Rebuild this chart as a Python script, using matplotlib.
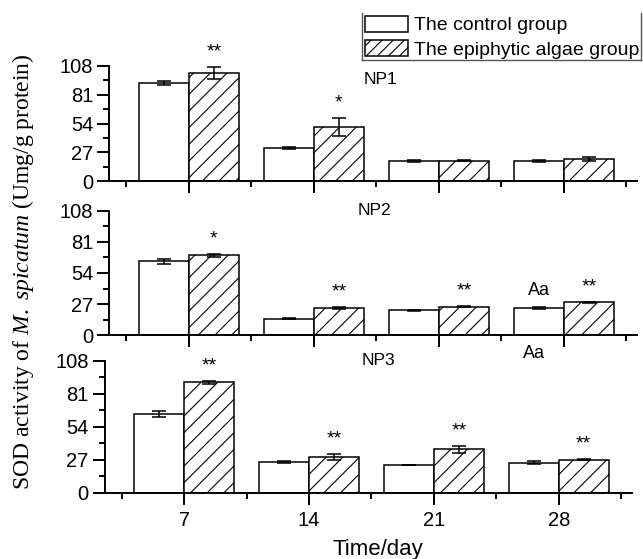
import matplotlib
matplotlib.use("Agg")
import matplotlib.pyplot as plt
from matplotlib.lines import Line2D
from matplotlib.patches import Patch
import numpy as np

plt.rcParams['font.family'] = ['Liberation Sans', 'DejaVu Sans']
plt.rcParams['mathtext.fontset'] = 'custom'
plt.rcParams['mathtext.rm'] = 'Liberation Serif'
plt.rcParams['mathtext.it'] = 'Liberation Serif:italic'
plt.rcParams['hatch.linewidth'] = 0.8

days = [7, 14, 21, 28]
day_labels = ["7", "14", "21", "28"]
yticks = [0, 27, 54, 81, 108]

np1_control = [92.1, 30.9, 19.0, 19.0]
np1_control_err = [2.2, 0.8, 0.5, 0.5]
np1_algae = [101.4, 51.2, 19.3, 20.9]
np1_algae_err = [5.3, 8.4, 0.7, 1.5]
np1_sig = ["**", "*", "", ""]

np2_control = [64.1, 14.4, 21.7, 23.4]
np2_control_err = [2.3, 0.5, 0.4, 1.0]
np2_algae = [69.3, 23.4, 24.8, 28.6]
np2_algae_err = [1.0, 1.0, 0.5, 0.5]
np2_sig = ["*", "**", "**", "**"]
np2_ctrl_note = ["", "", "", "Aa"]

np3_control = [64.2, 24.9, 22.7, 24.3]
np3_control_err = [2.6, 0.7, 0.3, 1.2]
np3_algae = [90.2, 29.2, 35.3, 27.1]
np3_algae_err = [1.5, 2.5, 3.0, 0.5]
np3_sig = ["**", "**", "**", "**"]

panel_names = ["NP1", "NP2", "NP3"]
legend_labels = ["The control group", "The epiphytic algae group"]

W, H = 643, 559
fig = plt.figure(figsize=(W / 100, H / 100), dpi=100)

def fx(px):
    return px / W

def fy(py):
    return 1 - py / H

# axes rectangles (pixel: left spine, right end, y of 0, y of 108)
rects = [
    (109.3, 637.0, 181.3, 66.0),
    (109.3, 637.0, 335.3, 210.7),
    (104.7, 631.7, 492.6, 360.7),
]

panels = [
    (np1_control, np1_control_err, np1_algae, np1_algae_err, np1_sig, ["", "", "", ""]),
    (np2_control, np2_control_err, np2_algae, np2_algae_err, np2_sig, np2_ctrl_note),
    (np3_control, np3_control_err, np3_algae, np3_algae_err, np3_sig, ["", "", "", ""]),
]

bw = 2.8
xlim = (2.54, 32.09)
axes = []
for i, ((l, r, y0, y1), (c, ce, a, ae, sig, note)) in enumerate(zip(rects, panels)):
    ax = fig.add_axes([fx(l), fy(y0), fx(r - l), (y0 - y1) / H])
    axes.append(ax)
    x = np.array(days, dtype=float)
    ax.bar(x - bw / 2, c, width=bw, color='white', edgecolor='black', linewidth=1.1, zorder=2)
    ax.bar(x + bw / 2, a, width=bw, color='white', edgecolor='black', linewidth=1.1,
           hatch='//', zorder=2)
    ax.errorbar(x - bw / 2, c, yerr=ce, fmt='none', ecolor='black', elinewidth=1.1,
                capsize=5, capthick=1.1, zorder=3)
    ax.errorbar(x + bw / 2, a, yerr=ae, fmt='none', ecolor='black', elinewidth=1.1,
                capsize=5, capthick=1.1, zorder=3)
    for xi, v, e, s in zip(x, a, ae, sig):
        if s:
            ax.annotate(s, (xi + bw / 2, v + e), xytext=(0, 15), textcoords='offset pixels',
                        ha='center', va='center', fontsize=14)
    for xi, v, e, s in zip(x, c, ce, note):
        if s:
            ax.annotate(s, (xi - bw / 2, v + e), xytext=(0, 17), textcoords='offset pixels',
                        ha='center', va='center', fontsize=13)
    ax.set_xlim(*xlim)
    ax.set_ylim(0, 108)
    ax.set_yticks(yticks)
    ax.set_yticks([13.5, 40.5, 67.5, 94.5], minor=True)
    ax.set_xticks(days)
    ax.set_xticks([3.5, 10.5, 17.5, 24.5, 31.5], minor=True)
    if i == 2:
        ax.set_xticklabels(day_labels)
    else:
        ax.set_xticklabels([])
    for side in ['top', 'right']:
        ax.spines[side].set_visible(False)
    for side in ['left', 'bottom']:
        ax.spines[side].set_linewidth(1.4)
    ax.tick_params(which='major', length=8.6, width=1.4, labelsize=14.5, pad=3)
    ax.tick_params(which='minor', length=4.5, width=1.4)
    ax.tick_params(axis='x', which='major', pad=5)
    ax.patch.set_alpha(0)

# panel names
axes[0].text(17.70, 95.5, panel_names[0], ha='center', va='center', fontsize=12.5)
axes[1].text(17.40, 108.6, panel_names[1], ha='center', va='center', fontsize=12.5)
axes[2].text(17.90, 107.8, panel_names[2], ha='center', va='center', fontsize=12.5)
axes[2].text(days[3] - bw / 2, 114.3, "Aa", ha='center', va='center', fontsize=13, clip_on=False)

# x label
fig.text(fx(378), fy(549), "Time/day", ha='center', va='center', fontsize=16)

# y label
fig.text(fx(23), fy(272), r"SOD activity of $\mathit{M.\ spicatum}$ (Umg/g protein)",
         rotation=90, ha='center', va='center', fontsize=17, family='Liberation Serif')

# legend
handles = [Patch(facecolor='white', edgecolor='black', linewidth=1.1),
           Patch(facecolor='white', edgecolor='black', linewidth=1.1, hatch='///')]
leg = fig.legend(handles, legend_labels, loc='upper left',
                 bbox_to_anchor=(fx(365), fy(16)), frameon=False, fontsize=14,
                 handlelength=2.2, handleheight=0.85, handletextpad=0.3,
                 labelspacing=0.3, borderpad=0, borderaxespad=0)
frame_col = '#555555'
fig.add_artist(Line2D([fx(362), fx(362)], [fy(13), fy(59.5)], color=frame_col, lw=1.0))
fig.add_artist(Line2D([fx(362), fx(641)], [fy(59.5), fy(59.5)], color=frame_col, lw=1.0))
fig.add_artist(Line2D([fx(641), fx(641)], [fy(13), fy(59.5)], color=frame_col, lw=1.0))

fig.savefig("out.png", dpi=100)
